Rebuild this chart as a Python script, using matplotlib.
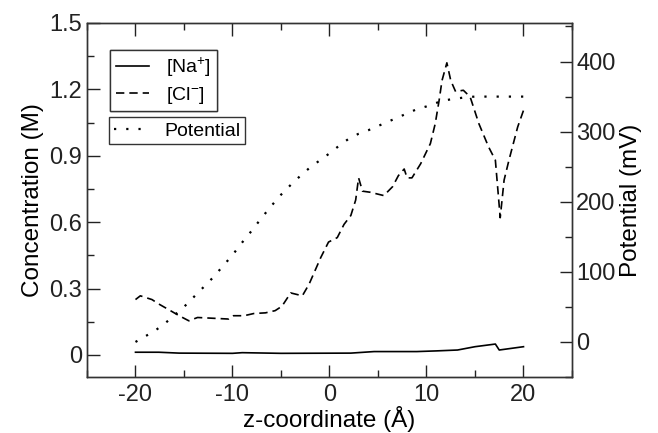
import matplotlib
matplotlib.use("Agg")
import matplotlib.pyplot as plt
from matplotlib.ticker import MultipleLocator

plt.rcParams['font.family'] = ['Liberation Sans', 'DejaVu Sans']
plt.rcParams['mathtext.default'] = 'regular'
plt.rcParams['axes.unicode_minus'] = False

# Cl- concentration (M)
cl_z = [-20, -19.5, -18.3, -17.6, -16.4, -15.5, -14.5, -13.6, -10.4, -9.9, -8.8, -7.8, -6.6,
        -5.6, -4.9, -4.0, -2.8, -2.1, -1.8, -0.9, -0.1, 0.8, 1.5, 2.2, 2.7, 3.0, 3.4, 4.2,
        5.6, 6.5, 7.1, 7.7, 8.0, 8.5, 9.4, 10.4, 10.9, 11.3, 11.6, 12.1, 12.5, 13.0, 13.8,
        14.5, 15.4, 16.4, 17.1, 17.6, 18.0, 18.5, 19.4, 20.0]
cl_c = [0.25, 0.267, 0.25, 0.23, 0.2, 0.177, 0.154, 0.169, 0.162, 0.177, 0.177, 0.187, 0.19,
        0.2, 0.22, 0.28, 0.267, 0.32, 0.35, 0.44, 0.51, 0.53, 0.59, 0.63, 0.70, 0.80, 0.74,
        0.735, 0.72, 0.76, 0.81, 0.84, 0.80, 0.80, 0.864, 0.955, 1.045, 1.15, 1.24, 1.32,
        1.24, 1.19, 1.196, 1.166, 1.045, 0.94, 0.88, 0.62, 0.79, 0.88, 1.03, 1.105]

# Na+ concentration (M)
na_z = [-20, -17.6, -15.5, -10.0, -9.0, -5.0, 2.2, 4.6, 9.0, 11.0, 13.2, 15.0, 17.1, 17.5, 20.0]
na_c = [0.012, 0.012, 0.008, 0.007, 0.01, 0.007, 0.008, 0.015, 0.015, 0.018, 0.022, 0.037,
        0.049, 0.022, 0.037]

# Potential (mV)
pot_z = list(range(-20, 21))
pot_v = [0, 8, 16, 26, 38, 50, 64, 78, 92, 108, 124, 142, 159, 177, 194, 210, 224, 237, 249,
         259, 269, 280, 290, 297, 302, 308, 314, 320, 326, 332, 336, 341, 345, 347, 349, 350,
         350, 350, 350, 350, 350]

x_ticks = [-20, -10, 0, 10, 20]
left_ticks = [0, 0.3, 0.6, 0.9, 1.2, 1.5]
left_labels = ['0', '0.3', '0.6', '0.9', '1.2', '1.5']
right_ticks = [0, 100, 200, 300, 400]

fig = plt.figure(figsize=(6.58, 4.33), dpi=100)
ax = fig.add_axes([0.1322, 0.1293, 0.8693 - 0.1322, 0.9469 - 0.1293])
ax2 = ax.twinx()

lw = 1.2
l_na, = ax.plot(na_z, na_c, color='black', lw=lw, ls='-')
l_cl, = ax.plot(cl_z, cl_c, color='black', lw=lw, ls=(0, (5, 3)))
l_pot, = ax2.plot(pot_z, pot_v, color='black', lw=1.6, ls=(0, (1, 4.5)))

ax.set_xlim(-25, 25)
ax.set_ylim(-0.1, 1.5)
ax2.set_ylim(-50, 455)

ax.set_xticks(x_ticks)
ax.xaxis.set_minor_locator(MultipleLocator(5))
ax.set_yticks(left_ticks)
ax.set_yticklabels(left_labels)
ax.yaxis.set_minor_locator(MultipleLocator(0.15))
ax2.set_yticks(right_ticks)
ax2.yaxis.set_minor_locator(MultipleLocator(50))

for a in (ax, ax2):
    a.tick_params(which='major', direction='in', length=9, width=1, labelsize=17, colors='#222222')
    a.tick_params(which='minor', direction='in', length=5, width=1, colors='#222222')
    for s in a.spines.values():
        s.set_linewidth(1.0)
        s.set_color('#333333')
ax.tick_params(which='both', top=True, right=False)
ax.tick_params(axis='x', which='major', pad=5)
ax2.tick_params(which='both', left=False, right=True)
ax2.tick_params(axis='y', which='major', pad=3)

ax.set_xlabel('z-coordinate (Å)', fontsize=17.5, labelpad=0)
ax.set_ylabel('Concentration (M)', fontsize=17.5, labelpad=4)
ax2.set_ylabel('Potential (mV)', fontsize=17.5, labelpad=3)

leg1 = ax.legend([l_na, l_cl], ['[Na$^{+}$]', '[Cl$^{-}$]'], loc='upper left',
                 bbox_to_anchor=(0.047, 0.925), fontsize=14, frameon=True, fancybox=False,
                 edgecolor='#333333', framealpha=1, handlelength=1.7, borderpad=0.3,
                 labelspacing=0.3, handletextpad=0.9, borderaxespad=0)
leg1.get_frame().set_linewidth(1.0)
ax.add_artist(leg1)
leg2 = ax2.legend([l_pot], ['Potential'], loc='upper left',
                  bbox_to_anchor=(0.045, 0.734), fontsize=14, frameon=True, fancybox=False,
                  edgecolor='#333333', framealpha=1, handlelength=1.7, borderpad=0.25,
                  handletextpad=0.9, borderaxespad=0)
leg2.get_frame().set_linewidth(1.0)

fig.savefig('out.png', dpi=100)
